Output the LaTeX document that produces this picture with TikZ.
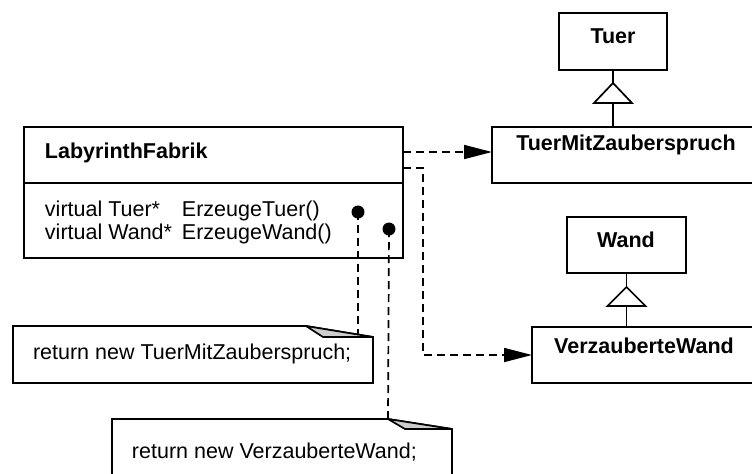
\documentclass[tikz,border=0pt]{standalone}
\usepackage{fontspec}
\setmainfont{Liberation Sans}
\usetikzlibrary{arrows.meta,calc}
\begin{document}
\begin{tikzpicture}[x=0.5pt,y=-0.5pt,
  every node/.style={inner sep=0pt, outer sep=0pt},
  boxline/.style={line width=0.85pt},
  classbox/.style={draw, boxline, fill=white, rectangle},
  plain/.style={font=\fontsize{10.75}{12}\selectfont},
  bold/.style={font=\fontsize{10.75}{12}\selectfont\bfseries},
  dep/.style={line width=0.85pt, dash pattern=on 4pt off 2.5pt,
    -{Triangle[length=14pt,width=7pt]}},
  anchorline/.style={line width=0.85pt, dash pattern=on 4pt off 2.5pt},
  dot/.style={circle, fill=black, minimum size=6.5pt},
  fold/.style={boxline, fill=black!20, line join=round},
  inherit/.style={boxline, fill=white}
]
\useasboundingbox (0,0) rectangle (752,473);
\clip (0,0) rectangle (752,473);

% Class LabyrinthFabrik: name compartment and operations compartment
\node[classbox, minimum width=189.5pt, minimum height=28pt] (fab) at (213.5,155) {};
\node[classbox, minimum width=189.5pt, minimum height=37.5pt] (fabops) at (213.5,220.5) {};
\node[bold, anchor=base west] (fabname) at (45,158) {LabyrinthFabrik};
\node[plain, anchor=base west] (op1type) at (45,216) {virtual Tuer*};
\node[plain, anchor=base west] (op1name) at (182,216) {ErzeugeTuer()};
\node[plain, anchor=base west] (op2type) at (45,239) {virtual Wand*};
\node[plain, anchor=base west] (op2name) at (182,239) {ErzeugeWand()};

% Products and their abstract bases
\node[classbox, minimum width=54pt, minimum height=28.5pt] (tuer) at (613,41.5) {};
\node[bold, anchor=base] (tuername) at (613,43) {Tuer};
\node[classbox, minimum width=134pt, minimum height=28pt] (tmz) at (626,155) {};
\node[bold, anchor=base] (tmzname) at (626,150) {TuerMitZauberspruch};
\node[classbox, minimum width=59.5pt, minimum height=28pt] (wand) at (626.5,245) {};
\node[bold, anchor=base] (wandname) at (626,247) {Wand};
\node[classbox, minimum width=112pt, minimum height=28pt] (vw) at (644,355) {};
\node[bold, anchor=base] (vwname) at (644,353) {VerzauberteWand};

% Generalisation
\draw[boxline] (tuer.south) -- (tuer.south |- tmz.north);
\draw[inherit] ($(tuer.south)+(0,13)$) -- ++(19,20) -- ++(-38,0) -- cycle;
\draw[boxline] (wand.south) -- (wand.south |- vw.north);
\draw[inherit] ($(wand.south)+(0,14)$) -- ++(19,19) -- ++(-38,0) -- cycle;

% Dependencies (instantiation)
\draw[dep] ($(fab.east)+(0,-3)$) -- ($(tmz.west)+(0,-3)$);
\draw[dep] ($(fab.east)+(0,13)$) -- ++(20,0) |- (vw.west);

% Implementation notes
\node[dot] (d1) at (358,212) {};
\node[dot] (d2) at (389,229) {};
\coordinate (n1hook) at (358,334.5);
\coordinate (n2hook) at (388,419);
\draw[anchorline] (d1.center) -- (n1hook);
\draw[anchorline] (d2.center) -- (n2hook);

\draw[boxline, fill=white] (13,326) -- (306,326) -- (373,337) -- (373,383) -- (13,383) -- cycle;
\draw[fold] (306,326) -- (323,337) -- (373,337) -- cycle;
\node[plain, anchor=base west] (note1) at (33,359) {return new TuerMitZauberspruch;};

\draw[boxline, fill=white] (112,419) -- (388,419) -- (452,429) -- (452,476) -- (112,476) -- cycle;
\draw[fold] (388,419) -- (405,429) -- (452,429) -- cycle;
\node[plain, anchor=base west] (note2) at (132,458) {return new VerzauberteWand;};
\end{tikzpicture}
\end{document}
